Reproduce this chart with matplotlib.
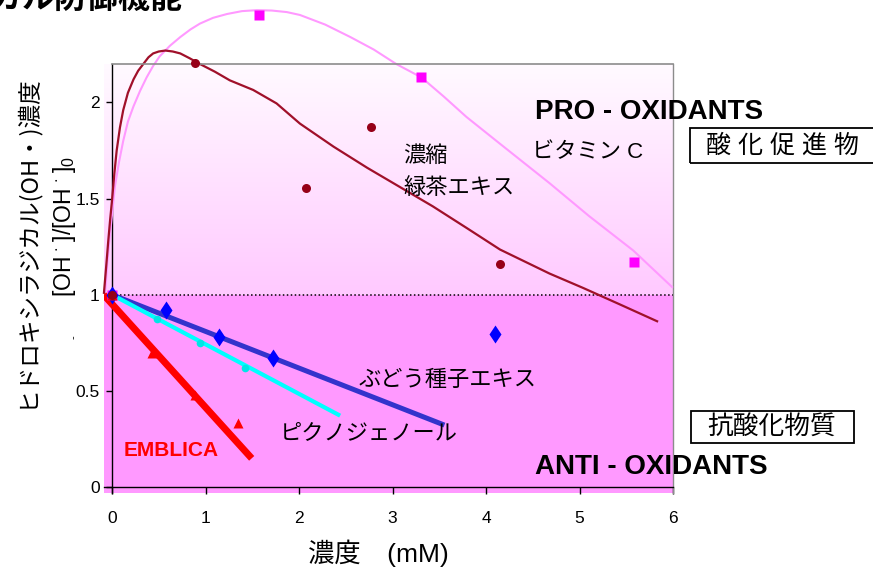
import numpy as np
import matplotlib
matplotlib.use("Agg")
import matplotlib.pyplot as plt
from matplotlib.colors import LinearSegmentedColormap
from matplotlib.patches import Rectangle

# ---------------- data ----------------
conc_green = [0.0, 0.888, 2.075, 2.77, 4.15]
ratio_green = [1.0, 2.204, 1.555, 1.873, 1.16]
fit_green_x = [-0.086, -0.06, -0.04, -0.02, 0.0, 0.025, 0.05, 0.085, 0.12, 0.17, 0.23,
               0.28, 0.335, 0.39, 0.44, 0.5, 0.57, 0.65, 0.73, 0.83, 0.94, 1.1,
               1.26, 1.51, 1.76, 2.01, 2.37, 2.73, 3.08, 3.43, 3.8, 4.15, 4.68, 5.04,
               5.43, 5.83]
fit_green_y = [1.01, 1.16, 1.28, 1.39, 1.49, 1.63, 1.75, 1.87, 1.96, 2.05, 2.12,
               2.165, 2.20, 2.235, 2.255, 2.265, 2.27, 2.265, 2.255, 2.23, 2.20, 2.16,
               2.115, 2.065, 1.995, 1.89, 1.77, 1.66, 1.56, 1.46, 1.345, 1.235, 1.11, 1.035,
               0.95, 0.862]

conc_vitc = [0.0, 1.575, 3.31, 5.58]
ratio_vitc = [1.0, 2.455, 2.134, 1.17]
fit_vitc_x = [-0.075, -0.05, -0.02, 0.03, 0.075, 0.12, 0.17, 0.23, 0.3, 0.37, 0.44,
              0.51, 0.62, 0.73, 0.84, 0.94, 1.08, 1.23, 1.39, 1.55, 1.71, 1.87, 2.01,
              2.28, 2.55, 2.8, 3.04, 3.31, 3.55, 3.79, 4.15, 4.68, 5.1, 5.575, 5.99]
fit_vitc_y = [1.0, 1.17, 1.32, 1.56, 1.69, 1.80, 1.90, 1.98, 2.06, 2.13, 2.19,
              2.24, 2.295, 2.34, 2.38, 2.41, 2.44, 2.46, 2.475, 2.48, 2.478, 2.47, 2.455,
              2.405, 2.34, 2.275, 2.20, 2.13, 2.03, 1.925, 1.785, 1.58, 1.41, 1.23, 1.04]

conc_grape = [0.0, 0.578, 1.148, 1.718, 4.096]
ratio_grape = [1.0, 0.921, 0.782, 0.669, 0.796]
fit_grape_x = [0.0, 3.555]
fit_grape_y = [1.0, 0.322]

conc_pycno = [0.0, 0.478, 0.941, 1.422]
ratio_pycno = [1.0, 0.872, 0.751, 0.62]
fit_pycno_x = [0.0, 2.44]
fit_pycno_y = [1.0, 0.371]

conc_emblica = [0.0, 0.424, 0.891, 1.351]
ratio_emblica = [1.0, 0.695, 0.479, 0.334]
fit_emblica_x = [-0.09, 1.494]
fit_emblica_y = [1.0, 0.149]

x_ticks = [0, 1, 2, 3, 4, 5, 6]
y_ticks = [0, 0.5, 1, 1.5, 2]
y_tick_labels = ["0", "0.5", "1", "1.5", "2"]

# ---------------- figure ----------------
W, H = 873, 570
fig = plt.figure(figsize=(W / 100, H / 100), dpi=100)
plt.rcParams['mathtext.fontset'] = 'custom'
plt.rcParams['mathtext.rm'] = 'Liberation Sans'
plt.rcParams['mathtext.it'] = 'Liberation Sans'

def P(x, y):
    return x / W, 1 - y / H

JP = ['Noto Sans CJK JP', 'DejaVu Sans']
MIX = ['Liberation Sans', 'Noto Sans CJK JP', 'DejaVu Sans']
NARROW = ['Liberation Sans Narrow', 'Liberation Sans', 'DejaVu Sans']

ax = fig.add_axes([104 / W, 1 - 493 / H, 569 / W, 429 / H])
xmin, xmax = -0.0856, 6.0
ymin, ymax = -0.0312, 2.2

# background
grad = np.linspace(0, 1, 256).reshape(-1, 1)
cmap = LinearSegmentedColormap.from_list('g', ['#FFC9FF', '#FFFAFF'])
ax.imshow(grad, extent=[xmin, xmax, 1, ymax], aspect='auto', cmap=cmap,
          origin='lower', zorder=0)
ax.add_patch(Rectangle((xmin, ymin), xmax - xmin, 1 - ymin, color='#FF99FF',
                       zorder=0.5, lw=0))
ax.set_xlim(xmin, xmax)
ax.set_ylim(ymin, ymax)

# spines
for s in ['left', 'bottom']:
    ax.spines[s].set_position(('data', 0))
    ax.spines[s].set_color('black')
    ax.spines[s].set_linewidth(1.0)
ax.spines['top'].set_visible(False)
ax.spines['right'].set_color('#8C8C8C')
ax.spines['right'].set_linewidth(1.0)
ax.plot([0, xmax], [ymax, ymax], color='#8C8C8C', lw=1.2, clip_on=False, zorder=5)

ax.set_xticks(x_ticks)
ax.set_yticks(y_ticks)
ax.set_yticklabels(y_tick_labels)
ax.tick_params(axis='x', direction='out', length=5, width=1, pad=12,
               labelsize=12.5)
ax.tick_params(axis='y', direction='out', length=4.5, width=1, pad=4.3,
               labelsize=12.5)
for lab in ax.get_xticklabels() + ax.get_yticklabels():
    lab.set_family(NARROW)

# dotted line at 1
ax.plot([0, xmax], [1, 1], color='black', ls=(0, (1, 1.6)), lw=1.1, zorder=2)

# trend lines
ax.plot(fit_vitc_x, fit_vitc_y, color='#FF99FF', lw=1.5, clip_on=False, zorder=3,
        solid_joinstyle='round')
ax.plot(fit_green_x, fit_green_y, color='#A0102A', lw=1.6, clip_on=False, zorder=3,
        solid_joinstyle='round')
ax.plot(fit_grape_x, fit_grape_y, color='#3333CC', lw=3.6, solid_capstyle='butt', zorder=3)
ax.plot(fit_pycno_x, fit_pycno_y, color='#00FFFF', lw=3.0, solid_capstyle='butt', zorder=3)
ax.plot(fit_emblica_x, fit_emblica_y, color='#FF0000', lw=5.0, solid_capstyle='butt', zorder=3)

# markers
ax.plot(conc_vitc, ratio_vitc, ls='none', marker='s', ms=6.5, color='#FF00FF',
        mec='none', clip_on=False, zorder=4)
ax.plot(conc_grape, ratio_grape, ls='none', marker='d', ms=9.5, color='#0000FF',
        mec='none', zorder=4)
ax.plot(conc_pycno, ratio_pycno, ls='none', marker='o', ms=5.5, color='#00E5E5',
        mec='none', zorder=4)
ax.plot(conc_emblica, ratio_emblica, ls='none', marker='^', ms=7, color='#FF0000',
        mec='none', zorder=4)
ax.plot(conc_green, ratio_green, ls='none', marker='o', ms=6.5, color='#960018',
        mec='none', clip_on=False, zorder=6)

# ---------------- texts ----------------
fig.text(*P(183, 8), 'ヒドロキシラジカル防御機能', ha='right', va='baseline',
         fontsize=23, fontweight='bold', family=JP)

fig.text(*P(26, 241), 'ヒドロキシラジカル(OH・)濃度', rotation=90, ha='center',
         va='center', fontsize=17, family=JP)
fig.text(*P(64, 226), r'[OH$^{\,\cdot\,}$]/[OH$^{\,\cdot\,}$]$_0$', rotation=90,
         ha='center', va='center', fontsize=16.5, family=['Liberation Sans'])
fig.text(*P(74, 337), '-', rotation=90, ha='center', va='center', fontsize=8,
         family=['Liberation Sans'])

fig.text(*P(378.5, 553), '濃度　(mM)', ha='center', va='center', fontsize=19, family=MIX)

fig.text(*P(535, 112), 'PRO - OXIDANTS', ha='left', va='center', fontsize=20,
         fontweight='bold', family=['Liberation Sans'])
fig.text(*P(535, 467), 'ANTI - OXIDANTS', ha='left', va='center', fontsize=20,
         fontweight='bold', family=['Liberation Sans'])
fig.text(*P(532, 153), 'ビタミン C', ha='left', va='center', fontsize=16, family=MIX)
fig.text(*P(403, 155), '濃縮', ha='left', va='center', fontsize=16, family=JP)
fig.text(*P(403, 187), '緑茶エキス', ha='left', va='center', fontsize=16, family=JP)
fig.text(*P(359, 379), 'ぶどう種子エキス', ha='left', va='center', fontsize=16, family=JP)
fig.text(*P(280, 433), 'ピクノジェノール', ha='left', va='center', fontsize=16, family=JP)
fig.text(*P(124, 451), 'EMBLICA', ha='left', va='center', fontsize=15,
         fontweight='bold', color='#FF0000', family=['Liberation Sans'])

# boxed labels
fig.patches.append(Rectangle(P(690, 163), 200 / W, 35 / H, transform=fig.transFigure,
                             fill=False, ec='black', lw=1.3, clip_on=False))
fig.text(*P(782, 146), '酸 化 促 進 物', ha='center', va='center', fontsize=18,
         family=MIX)
fig.patches.append(Rectangle(P(691, 443), 163 / W, 32 / H, transform=fig.transFigure,
                             fill=False, ec='black', lw=1.3))
fig.text(*P(772, 428), '抗酸化物質', ha='center', va='center', fontsize=18.5, family=JP)

fig.savefig('out.png', dpi=100)
